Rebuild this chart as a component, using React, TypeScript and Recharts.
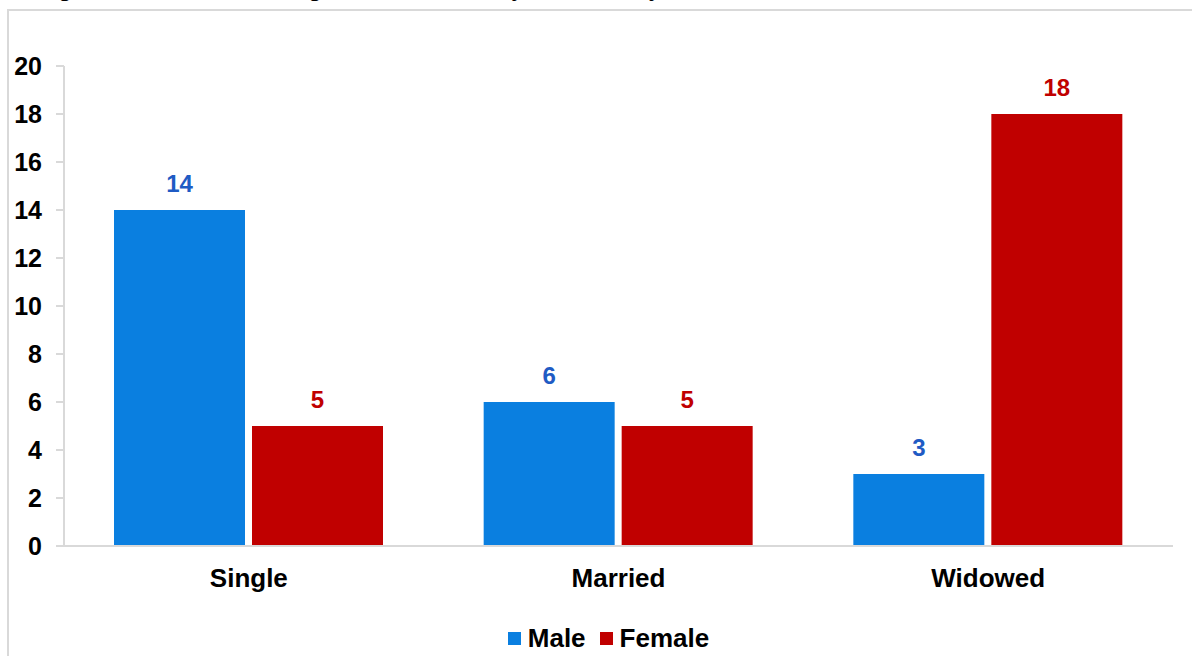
import React from "react";
import { Bar, BarChart, LabelList, Legend, XAxis, YAxis } from "recharts";

const categories = ["Single", "Married", "Widowed"];
const maleValues = [14, 6, 3];
const femaleValues = [5, 5, 18];
const yTicks = [0, 2, 4, 6, 8, 10, 12, 14, 16, 18, 20];
const legendOrder = ["Male", "Female"];

const title =
    "Figure 3: Number of Registered Deaths by Sex and by Civil Status, Tarawa, First Semester 2018";

const FONT = "'Liberation Sans', Arial, sans-serif";

const chartData = categories.map((name, i) => ({
    name,
    male: maleValues[i],
    female: femaleValues[i],
}));

function LegendContent({ payload }: any) {
    const items = [...(payload || [])].sort(
        (a: any, b: any) => legendOrder.indexOf(a.value) - legendOrder.indexOf(b.value),
    );
    return (
        <div
            style={{
                display: "flex",
                justifyContent: "center",
                alignItems: "center",
                fontFamily: FONT,
                fontWeight: 700,
                fontSize: 26,
                color: "#000",
                paddingLeft: 50,
                transform: "translateY(7px)",
            }}
        >
            {items.map((item: any) => (
                <div
                    key={item.value}
                    style={{ display: "flex", alignItems: "center", marginRight: 14 }}
                >
                    <span
                        style={{
                            width: 13,
                            height: 13,
                            background: item.color,
                            marginRight: 7,
                            display: "inline-block",
                        }}
                    />
                    <span>{item.value}</span>
                </div>
            ))}
        </div>
    );
}

export default function App() {
    return (
        <div
            style={{
                position: "fixed",
                left: 0,
                top: 0,
                width: 1192,
                height: 656,
                overflow: "hidden",
                background: "#fff",
            }}
        >
            <div
                style={{
                    position: "absolute",
                    left: 36,
                    top: -28,
                    whiteSpace: "nowrap",
                    fontFamily: FONT,
                    fontSize: 26,
                    color: "#000",
                }}
            >
                {title}
            </div>
            <div
                style={{
                    position: "absolute",
                    left: 7,
                    top: 9,
                    width: 1300,
                    height: 800,
                    border: "2px solid #d9d9d9",
                }}
            />
            <div style={{ position: "absolute", left: 0, top: 0 }}>
                <BarChart
                    width={1192}
                    height={656}
                    data={chartData}
                    margin={{ top: 66, right: 19, bottom: 0, left: 8 }}
                    barGap={7}
                    barCategoryGap={50}
                >
                    <XAxis
                        dataKey="name"
                        axisLine={{ stroke: "#d9d9d9", strokeWidth: 2 }}
                        tickLine={false}
                        tickSize={0}
                        tickMargin={23}
                        height={70}
                        tick={{
                            fill: "#000",
                            fontSize: 26,
                            fontWeight: 700,
                            fontFamily: FONT,
                        }}
                    />
                    <YAxis
                        width={56}
                        domain={[0, 20]}
                        ticks={yTicks}
                        interval={0}
                        axisLine={{ stroke: "#d9d9d9", strokeWidth: 2 }}
                        tickLine={{ stroke: "#d9d9d9", strokeWidth: 2 }}
                        tickSize={8}
                        tickMargin={14}
                        tick={{
                            fill: "#000",
                            fontSize: 25,
                            fontWeight: 700,
                            fontFamily: FONT,
                        }}
                    />
                    <Legend
                        verticalAlign="bottom"
                        height={40}
                        content={<LegendContent />}
                    />
                    <Bar
                        dataKey="male"
                        name="Male"
                        fill="#0A7FE0"
                        isAnimationActive={false}
                    >
                        <LabelList
                            dataKey="male"
                            position="top"
                            offset={18}
                            fill="#1F5BC4"
                            fontSize={24}
                            fontWeight={700}
                            fontFamily={FONT}
                        />
                    </Bar>
                    <Bar
                        dataKey="female"
                        name="Female"
                        fill="#C00000"
                        isAnimationActive={false}
                    >
                        <LabelList
                            dataKey="female"
                            position="top"
                            offset={18}
                            fill="#C00000"
                            fontSize={24}
                            fontWeight={700}
                            fontFamily={FONT}
                        />
                    </Bar>
                </BarChart>
            </div>
        </div>
    );
}
